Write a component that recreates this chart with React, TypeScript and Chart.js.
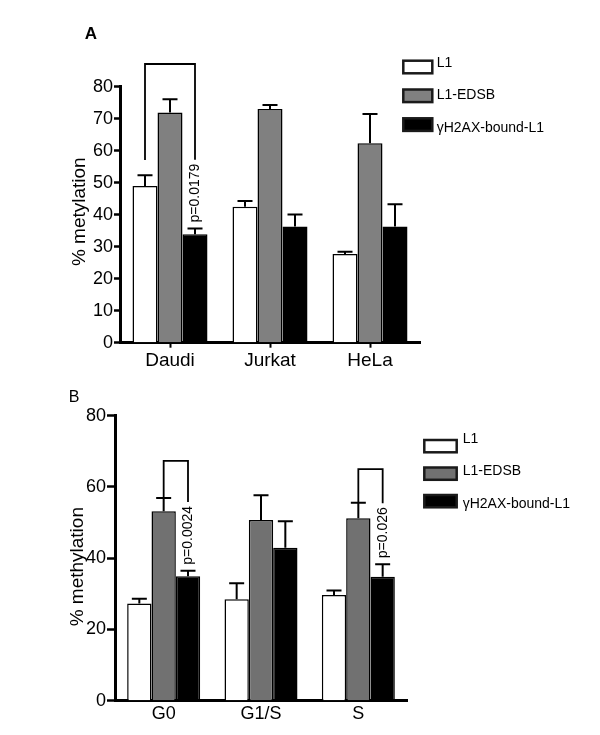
import React, { useEffect, useRef } from "react";
import { Chart, registerables } from "chart.js";

Chart.register(...registerables);

const FONT = "Arial, 'Liberation Sans', Helvetica, sans-serif";

// ---------- data ----------
const seriesLabels = ["L1", "L1-EDSB", "γH2AX-bound-L1"];

// Panel A
const categoriesA = ["Daudi", "Jurkat", "HeLa"];
const l1ValuesA = [49.0, 42.5, 27.7];
const l1ErrorsA = [3.3, 1.8, 0.7];
const edsbValuesA = [71.9, 73.0, 62.3];
const edsbErrorsA = [4.2, 1.3, 9.2];
const h2axValuesA = [33.9, 36.3, 36.3];
const h2axErrorsA = [1.8, 3.8, 7.0];
const yTicksA = [0, 10, 20, 30, 40, 50, 60, 70, 80];
const yTitleA = "% metylation";
const bracketsA = [
  { category: 0, from: 0, to: 2, top: 87.1, leftEnd: 57.1, label: "p=0.0179" },
];

// Panel B
const categoriesB = ["G0", "G1/S", "S"];
const l1ValuesB = [27.3, 28.5, 29.7];
const l1ErrorsB = [1.3, 4.5, 1.2];
const edsbValuesB = [53.2, 50.7, 51.2];
const edsbErrorsB = [3.7, 7.0, 4.4];
const h2axValuesB = [34.9, 42.9, 34.8];
const h2axErrorsB = [1.6, 7.5, 3.5];
const yTicksB = [0, 20, 40, 60, 80];
const yTitleB = "% methylation";
const bracketsB = [
  { category: 0, from: 1, to: 2, top: 67.3, leftEnd: 56.9, label: "p=0.0024" },
  { category: 2, from: 1, to: 2, top: 65.0, leftEnd: 55.6, label: "p=0.026" },
];

// ---------- panel layout / style ----------
const panelA = {
  top: 0,
  height: 372,
  chartLeft: 120,
  chartRight: 420,
  chartTop: 86.7,
  chartBottom: 342.7,
  categories: categoriesA,
  values: [l1ValuesA, edsbValuesA, h2axValuesA],
  errors: [l1ErrorsA, edsbErrorsA, h2axErrorsA],
  colors: ["#ffffff", "#808080", "#000000"],
  yTicks: yTicksA,
  yTitle: yTitleA,
  yTitleX: 80,
  yTitleY: 211.7,
  brackets: bracketsA,
  letter: "A",
  letterFont: `bold 17px ${FONT}`,
  letterX: 91,
  letterY: 34,
  xFont: 19,
  yFont: 18,
  xTickLength: 5,
  xPad: 2,
  yTickLength: 6,
  legend: { x: 403.3, y: 60.7, w: 29, h: 12.6, step: 28.8, textX: 436.7, textY: 62.7, textStep: 32.8 },
};

const panelB = {
  top: 370,
  height: 365,
  chartLeft: 115,
  chartRight: 407,
  chartTop: 45.7,
  chartBottom: 330.7,
  categories: categoriesB,
  values: [l1ValuesB, edsbValuesB, h2axValuesB],
  errors: [l1ErrorsB, edsbErrorsB, h2axErrorsB],
  colors: ["#ffffff", "#717171", "#000000"],
  yTicks: yTicksB,
  yTitle: yTitleB,
  yTitleX: 78,
  yTitleY: 196.7,
  brackets: bracketsB,
  letter: "B",
  letterFont: `16px ${FONT}`,
  letterX: 74,
  letterY: 27.5,
  xFont: 18,
  yFont: 18,
  xTickLength: 0,
  xPad: 3,
  yTickLength: 8,
  legend: { x: 424.3, y: 70, w: 32.4, h: 12.3, step: 27.5, textX: 462.7, textY: 69.3, textStep: 32.3 },
};

// ---------- plugins ----------
const errorBarPlugin = {
  id: "errorBars",
  afterDatasetsDraw(chart: any) {
    const ctx = chart.ctx;
    const y = chart.scales.y;
    ctx.save();
    ctx.strokeStyle = "#000";
    ctx.lineWidth = 2;
    chart.data.datasets.forEach((ds: any, i: number) => {
      const meta = chart.getDatasetMeta(i);
      meta.data.forEach((bar: any, j: number) => {
        const v = ds.data[j];
        const e = ds.errors[j];
        const yt = y.getPixelForValue(v + e);
        ctx.beginPath();
        ctx.moveTo(bar.x, bar.y);
        ctx.lineTo(bar.x, yt);
        ctx.moveTo(bar.x - 7.5, yt);
        ctx.lineTo(bar.x + 7.5, yt);
        ctx.stroke();
      });
    });
    ctx.restore();
  },
};

function makeDecorPlugin(p: any) {
  return {
    id: "decor",
    afterDraw(chart: any) {
      const ctx = chart.ctx;
      const y = chart.scales.y;
      ctx.save();
      ctx.fillStyle = "#000";
      // panel letter
      ctx.font = p.letterFont;
      ctx.textAlign = "center";
      ctx.textBaseline = "middle";
      ctx.fillText(p.letter, p.letterX, p.letterY);
      // y axis title
      ctx.save();
      ctx.translate(p.yTitleX, p.yTitleY);
      ctx.rotate(-Math.PI / 2);
      ctx.font = `19px ${FONT}`;
      ctx.textAlign = "center";
      ctx.textBaseline = "middle";
      ctx.fillText(p.yTitle, 0, 0);
      ctx.restore();
      // legend
      const L = p.legend;
      chart.data.datasets.forEach((ds: any, i: number) => {
        const by = L.y + i * L.step;
        ctx.fillStyle = ds.backgroundColor;
        ctx.fillRect(L.x, by, L.w, L.h);
        ctx.strokeStyle = "#1a1a1a";
        ctx.lineWidth = 2.5;
        ctx.strokeRect(L.x, by, L.w, L.h);
        ctx.fillStyle = "#000";
        ctx.font = `14px ${FONT}`;
        ctx.textAlign = "left";
        ctx.textBaseline = "middle";
        ctx.fillText(ds.label, L.textX, L.textY + i * L.textStep);
      });
      // significance brackets
      ctx.strokeStyle = "#000";
      ctx.lineWidth = 1.8;
      p.brackets.forEach((b: any) => {
        const lx = chart.getDatasetMeta(b.from).data[b.category].x;
        const rx = chart.getDatasetMeta(b.to).data[b.category].x;
        const ds = chart.data.datasets[b.to];
        const capY = y.getPixelForValue(ds.data[b.category] + ds.errors[b.category]);
        ctx.font = `14px ${FONT}`;
        const w = ctx.measureText(b.label).width;
        const textBottom = capY - 6;
        const textTop = textBottom - w;
        ctx.save();
        ctx.translate(rx, textBottom);
        ctx.rotate(-Math.PI / 2);
        ctx.fillStyle = "#000";
        ctx.textAlign = "left";
        ctx.textBaseline = "middle";
        ctx.fillText(b.label, 0, 0);
        ctx.restore();
        const topY = y.getPixelForValue(b.top);
        ctx.beginPath();
        ctx.moveTo(lx, y.getPixelForValue(b.leftEnd));
        ctx.lineTo(lx, topY);
        ctx.lineTo(rx, topY);
        ctx.lineTo(rx, textTop - 4);
        ctx.stroke();
      });
      ctx.restore();
    },
  };
}

function buildConfig(p: any): any {
  return {
    type: "bar",
    data: {
      labels: p.categories,
      datasets: p.values.map((vals: number[], i: number) => ({
        label: seriesLabels[i],
        data: vals,
        errors: p.errors[i],
        backgroundColor: p.colors[i],
        borderColor: "#000",
        borderWidth: 1.5,
        categoryPercentage: 0.75,
        barPercentage: 1,
      })),
    },
    options: {
      responsive: false,
      maintainAspectRatio: false,
      animation: false,
      events: [],
      layout: {
        padding: { left: 0, top: p.chartTop, right: 600 - p.chartRight, bottom: 0 },
      },
      plugins: {
        legend: { display: false },
        tooltip: { enabled: false },
        title: { display: false },
      },
      scales: {
        x: {
          type: "category",
          z: 1,
          grid: {
            display: p.xTickLength > 0,
            drawOnChartArea: false,
            drawTicks: p.xTickLength > 0,
            tickLength: p.xTickLength,
            offset: false,
            tickColor: "#000",
            tickWidth: 2,
          },
          border: { display: true, color: "#000", width: 3 },
          ticks: {
            color: "#000",
            font: { family: FONT, size: p.xFont },
            padding: p.xPad,
            maxRotation: 0,
            autoSkip: false,
          },
          afterFit: (s: any) => {
            s.height = p.height - p.chartBottom;
          },
        },
        y: {
          min: 0,
          max: 80,
          z: 1,
          afterBuildTicks: (s: any) => {
            s.ticks = p.yTicks.map((v: number) => ({ value: v }));
          },
          grid: {
            display: true,
            drawOnChartArea: false,
            drawTicks: true,
            tickLength: p.yTickLength,
            tickColor: "#000",
            tickWidth: 2.5,
          },
          border: { display: true, color: "#000", width: 3 },
          ticks: {
            color: "#000",
            font: { family: FONT, size: p.yFont },
            padding: 1,
          },
          afterFit: (s: any) => {
            s.width = p.chartLeft;
          },
        },
      },
    },
    plugins: [errorBarPlugin, makeDecorPlugin(p)],
  };
}

function Panel({ cfg }: { cfg: any }) {
  const ref = useRef<HTMLCanvasElement>(null);
  useEffect(() => {
    const chart = new Chart(ref.current as HTMLCanvasElement, buildConfig(cfg));
    return () => chart.destroy();
  }, [cfg]);
  return (
    <canvas
      ref={ref}
      width={600}
      height={cfg.height}
      style={{ position: "absolute", left: 0, top: cfg.top, width: 600, height: cfg.height }}
    />
  );
}

export default function App() {
  return (
    <div
      style={{
        position: "absolute",
        left: 0,
        top: 0,
        width: 600,
        height: 735,
        background: "#fff",
        overflow: "hidden",
      }}
    >
      <Panel cfg={panelA} />
      <Panel cfg={panelB} />
    </div>
  );
}
